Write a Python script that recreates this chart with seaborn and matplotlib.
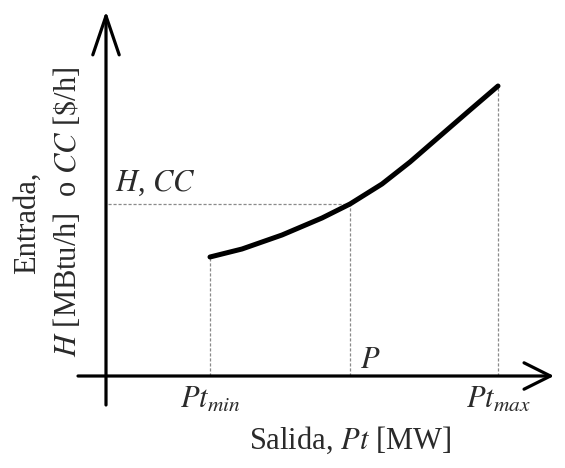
import matplotlib
matplotlib.use("Agg")
from matplotlib import pyplot as plt
import seaborn as sns
import pandas as pd

# output power Pt and input H / CC (arbitrary units)
pt_values = [104, 136, 176, 216, 244, 276, 304, 334, 364, 392]
cost_values = [119, 127, 141, 158, 172, 192, 214, 240, 266, 290]

pt_min = 104
pt_op = 244
pt_max = 392
cost_min = 119
cost_op = 172
cost_max = 290

sns.set_style("white")
plt.rcParams['font.family'] = ['Liberation Serif', 'DejaVu Serif']
plt.rcParams['mathtext.fontset'] = 'stix'

fig = plt.figure(figsize=(5.65, 4.68), dpi=100)
ax = fig.add_axes([0, 0, 1, 1])
ax.set_xlim(-106, 459)
ax.set_ylim(-92, 376)

txt = '#2a2a2a'
dash = '#8a8a8a'

# dashed guide lines
ax.vlines([pt_min, pt_op, pt_max], 0, [cost_min, cost_op, cost_max],
          colors=dash, linestyles=(0, (2.5, 1.5)), linewidth=0.9)
ax.hlines(cost_op, 2, pt_op, colors=dash, linestyles=(0, (2.5, 1.5)), linewidth=0.9)

# curve
df = pd.DataFrame({'Pt': pt_values, 'CC': cost_values})
sns.lineplot(data=df, x='Pt', y='CC', ax=ax, color='black', linewidth=3.6,
             solid_capstyle='round', solid_joinstyle='round', sort=True)
ax.axis('off')

# axes with open arrowheads
ax.annotate('', xy=(448, 0), xytext=(-28, 0),
            arrowprops=dict(arrowstyle='->,head_length=1.9,head_width=0.95',
                            lw=2.3, color='black', shrinkA=0, shrinkB=0))
ax.annotate('', xy=(0, 365), xytext=(0, -29),
            arrowprops=dict(arrowstyle='->,head_length=2.8,head_width=0.95',
                            lw=2.3, color='black', shrinkA=0, shrinkB=0))

# labels
ax.text(9, 193, '$H$, $CC$', fontsize=22, color=txt, ha='left', va='center')
ax.text(264, 16, '$P$', fontsize=22, color=txt, ha='center', va='center')
ax.text(pt_min, -24, '$Pt_{min}$', fontsize=22, color=txt, ha='center', va='center')
ax.text(pt_max, -24, '$Pt_{max}$', fontsize=22, color=txt, ha='center', va='center')
ax.text(244, -64, 'Salida, $Pt$ [MW]', fontsize=22, color=txt, ha='center', va='center')
ax.text(-79, 153, 'Entrada,', fontsize=22, color=txt, ha='center', va='center',
        rotation=90)
ax.text(-38, 164, '$H$ [MBtu/h]  o $CC$ [$\\$$/h]', fontsize=22, color=txt,
        ha='center', va='center', rotation=90)

fig.savefig('out.png', dpi=100)
